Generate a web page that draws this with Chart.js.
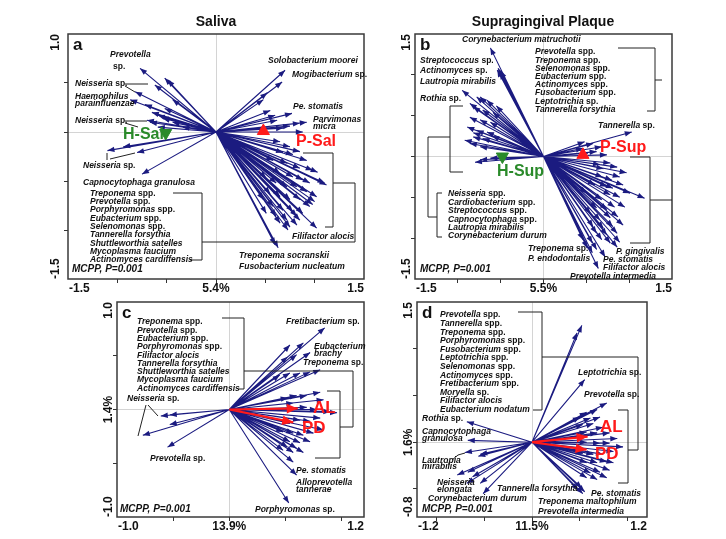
<!DOCTYPE html>
<html>
<head>
<meta charset="utf-8">
<script src="https://cdn.jsdelivr.net/npm/chart.js@4.4.0/dist/chart.umd.min.js"></script>
<style>
  body { margin: 0; background: #fff; }
  .wrap { position: relative; width: 726px; height: 539px; }
  canvas { position: absolute; left: 0; top: 0; }
</style>
</head>
<body>
<div class="wrap">
  <canvas id="pa" width="726" height="539"></canvas>
  <canvas id="pb" width="726" height="539"></canvas>
  <canvas id="pc" width="726" height="539"></canvas>
  <canvas id="pd" width="726" height="539"></canvas>
</div>
<script>
// ---- data: arrow tips (axis 1, axis 2) ----
const salivaTips = [
  [-0.77, 0.65], [-0.52, 0.55], [-0.62, 0.48], [-0.82, 0.41], [-0.87, 0.33], [-0.72, 0.28],
  [-0.65, 0.20], [-0.59, 0.17], [-0.70, 0.12], [-0.67, 0.10], [-0.54, 0.14], [-0.44, 0.10],
  [-0.59, 0.05], [-0.34, 0.05], [-1.10, -0.19], [-0.80, -0.21], [-0.94, -0.15], [-0.75, -0.43],
  [-0.49, 0.53], [-0.44, 0.33], [-0.52, 0.24], [-0.55, 0.15],
  [0.70, 0.63], [0.67, 0.51], [0.52, 0.40], [0.48, 0.33], [0.77, 0.19], [0.55, 0.22],
  [0.92, 0.10], [0.85, 0.09], [0.62, 0.12], [0.88, 0.00], [0.68, 0.04], [0.60, 0.17], [0.75, 0.06],
  [0.65, -0.10], [0.75, -0.15], [0.85, -0.20], [0.68, -0.21], [0.78, -0.23], [0.92, -0.29],
  [0.58, -0.29], [0.72, -0.32], [0.85, -0.37], [0.98, -0.39], [1.03, -0.41], [1.12, -0.54],
  [0.65, -0.42], [0.78, -0.46], [0.88, -0.49], [0.95, -0.52], [0.51, -0.47], [0.61, -0.52],
  [0.72, -0.56], [0.82, -0.56], [0.92, -0.61], [1.02, -0.66], [0.98, -0.74], [0.85, -0.69],
  [0.75, -0.69], [0.65, -0.66], [0.55, -0.63], [0.48, -0.69], [0.58, -0.76], [0.68, -0.80],
  [0.78, -0.81], [0.88, -0.83], [1.00, -0.71], [0.51, -0.83], [0.61, -0.86], [0.72, -0.90],
  [0.82, -0.86], [0.95, -0.76], [0.65, -0.93], [0.75, -0.97], [0.85, -0.90], [1.02, -0.98],
  [0.63, -1.18], [0.60, -1.15], [1.10, -0.52], [0.73, -1.00], [0.82, -0.95]
];
const plaqueTips = [
  [-0.62, 1.33], [-0.53, 1.08], [-0.51, 1.03], [-0.54, 1.06], [-0.50, 1.05], [-0.95, 0.81],
  [-0.78, 0.73], [-0.66, 0.69], [-0.82, 0.61], [-0.71, 0.57], [-0.59, 0.54], [-0.86, 0.48],
  [-0.74, 0.45], [-0.62, 0.42], [-0.89, 0.36], [-0.78, 0.32], [-0.66, 0.30], [-0.82, 0.24],
  [-0.71, 0.22], [-0.86, 0.16], [-0.74, 0.12], [-0.82, 0.29], [-0.80, -0.07], [-0.74, -0.04],
  [-0.62, -0.02], [-0.86, 0.65], [-0.74, 0.73], [-0.55, 0.62], [-0.60, 0.25], [-0.92, 0.20],
  [1.03, 0.30], [0.48, 0.18], [0.58, 0.16], [0.46, 0.10], [0.62, 0.06], [0.52, 0.04],
  [0.68, 0.12], [0.74, 0.02], [0.78, -0.08], [0.86, -0.13], [0.66, -0.10], [0.89, -0.25],
  [0.80, -0.29], [0.69, -0.25], [0.93, -0.35], [0.81, -0.39], [0.74, -0.37], [1.01, -0.45],
  [1.18, -0.51], [0.89, -0.50], [0.78, -0.47], [0.68, -0.53], [0.83, -0.62], [0.95, -0.62],
  [0.74, -0.65], [0.62, -0.63], [0.87, -0.74], [0.78, -0.75], [0.66, -0.78], [0.93, -0.84],
  [0.81, -0.86], [0.70, -0.88], [0.58, -0.86], [0.86, -0.94], [0.74, -0.96], [0.62, -0.94],
  [0.89, -1.05], [0.78, -1.06], [0.68, -1.02], [0.57, -1.06], [0.86, -1.11], [0.62, -1.14],
  [0.57, -1.18], [0.64, -1.37], [0.72, -1.23], [0.51, -1.12], [0.46, -1.02], [0.55, -0.70],
  [0.50, -0.45], [0.60, -0.35], [0.70, -0.15], [0.97, -0.20]
];
const salivaClinTips = [
  [0.85, 0.76], [0.72, 0.53], [0.66, 0.62], [0.54, 0.60], [0.60, 0.51], [0.52, 0.49],
  [0.81, 0.37], [0.72, 0.35], [0.63, 0.34], [0.54, 0.34], [0.45, 0.32], [0.81, 0.16],
  [0.69, 0.13], [0.60, 0.13], [0.52, 0.11], [0.84, 0.09], [0.96, -0.03], [0.90, -0.02],
  [0.78, 0.00], [0.69, 0.02], [0.57, 0.06], [0.81, -0.08], [0.72, -0.11], [0.63, -0.10],
  [0.54, -0.13], [0.84, -0.19], [0.75, -0.22], [0.66, -0.24], [0.57, -0.22], [0.48, -0.21],
  [0.72, -0.30], [0.63, -0.31], [0.54, -0.30], [0.66, -0.40], [0.57, -0.40], [0.48, -0.38],
  [0.60, -0.36], [0.57, -0.49], [0.60, -0.61], [0.53, -0.87], [0.52, -0.35],
  [-0.61, -0.06], [-0.53, -0.05], [-0.77, -0.24], [-0.53, -0.14], [-0.55, -0.35]
];
const plaqueClinTips = [
  [0.52, 1.25], [0.47, 1.17], [0.55, 0.67], [0.78, 0.42],
  [0.68, 0.35], [0.57, 0.32], [0.71, 0.27], [0.61, 0.26], [0.50, 0.27], [0.64, 0.20],
  [0.53, 0.19], [0.74, 0.16], [0.81, 0.10], [0.68, 0.10], [0.57, 0.11], [0.95, -0.05],
  [0.81, -0.01], [0.71, -0.01], [0.57, 0.00], [0.85, -0.10], [0.74, -0.13], [0.64, -0.13],
  [0.53, -0.12], [0.78, -0.21], [0.68, -0.22], [0.57, -0.22], [0.81, -0.30], [0.71, -0.32],
  [0.61, -0.33], [0.78, -0.38], [0.68, -0.40], [0.57, -0.38], [0.85, -0.22], [0.89, 0.04],
  [0.55, -0.53], [0.52, -0.49], [0.48, -0.51], [0.53, -0.55],
  [-0.68, 0.22], [-0.67, 0.02], [-0.70, -0.11], [-0.54, -0.13], [-0.56, -0.15], [-0.78, -0.35],
  [-0.67, -0.32], [-0.62, -0.37], [-0.68, -0.44], [-0.51, -0.55], [-0.54, -0.44]
];

// group centroids / clinical vectors
const salivaHealthy = [-0.51, -0.01];
const salivaPerio = [0.48, 0.01];
const plaqueHealthy = [-0.48, 0.0];
const plaquePerio = [0.46, 0.02];
const salivaClinVectors = [[0.61, 0.01], [0.57, -0.12]];
const plaqueClinVectors = [[0.58, 0.06], [0.57, -0.08]];

// tick labels (min, 0, max)
const salivaXLabels = ['-1.5', '5.4%', '1.5'];
const salivaYLabels = ['1.0', '', '-1.5'];
const plaqueXLabels = ['-1.5', '5.5%', '1.5'];
const plaqueYLabels = ['1.5', '', '-1.5'];
const salivaClinXLabels = ['-1.0', '13.9%', '1.2'];
const salivaClinYLabels = ['1.0', '1.4%', '-1.0'];
const plaqueClinXLabels = ['-1.2', '11.5%', '1.2'];
const plaqueClinYLabels = ['1.5', '1.6%', '-0.8'];

const FONT = '"Liberation Sans", Arial, Helvetica, sans-serif';
const NAVY = '#1b1b80';
const GREEN = '#2a8a2a';
const RED = '#ff1a1a';

function species(ctx, x, y, str, size) {
  let cx = x;
  str.split(' ').forEach((w, i) => {
    const up = w === 'sp.' || w === 'spp.';
    ctx.font = (up ? '' : 'italic ') + 'bold ' + size + 'px ' + FONT;
    const t = (i ? ' ' : '') + w;
    ctx.fillText(t, cx, y);
    cx += ctx.measureText(t).width;
  });
}

function listAt(x, y0, step, names) {
  return names.map((n, i) => [x, y0 + i * step, n]);
}

// ---- annotations (page pixels) ----
const panels = [
  {
    id: 'pa', box: [68, 34, 364, 279], xr: [-1.5, 1.5], yr: [-1.5, 1.0],
    xt: [-1, -0.5, 0, 0.5, 1], yt: [-1, -0.5, 0, 0.5],
    xl: salivaXLabels, yl: salivaYLabels, yOff: 12,
    tips: salivaTips, title: ['Saliva', 216], letter: 'a',
    groups: [[salivaHealthy, 'H-Sal', 123, 135], [salivaPerio, 'P-Sal', 296, 142]],
    notes: [
      [110, 55, 'Prevotella'], [113, 67, 'sp.'], [75, 84, 'Neisseria sp.'],
      [75, 97, 'Haemophilus'], [75, 104, 'parainfluenzae'], [75, 121, 'Neisseria sp.'],
      [83, 166, 'Neisseria sp.'], [83, 183, 'Capnocytophaga granulosa'],
      ...listAt(90, 193.3, 8.33, ['Treponema spp.', 'Prevotella spp.', 'Porphyromonas spp.',
        'Eubacterium spp.', 'Selenomonas spp.', 'Tannerella forsythia', 'Shuttleworthia satelles',
        'Mycoplasma faucium', 'Actinomyces cardiffensis']),
      [268, 61, 'Solobacterium moorei'], [292, 75, 'Mogibacterium sp.'], [293, 107, 'Pe. stomatis'],
      [313, 120, 'Parvimonas'], [313, 127, 'micra'], [292, 237, 'Filifactor alocis'],
      [239, 256, 'Treponema socranskii'], [239, 267, 'Fusobacterium nucleatum']
    ],
    lines: [
      [125, 84, 148, 84], [125, 86, 135, 92], [125, 121, 147, 121], [125, 123, 138, 127],
      [107, 153, 107, 160], [110, 159, 135, 153],
      [173, 193, 202, 193, 202, 260, 190, 260], [202, 242, 355, 242, 355, 183],
      [303, 153, 333, 153, 333, 227, 325, 227], [333, 183, 355, 183]
    ],
    mcpp: [72, 269]
  },
  {
    id: 'pb', box: [415, 34, 672, 279], xr: [-1.5, 1.5], yr: [-1.5, 1.5],
    xt: [-1, -0.5, 0, 0.5, 1], yt: [-1, -0.5, 0, 0.5, 1],
    xl: plaqueXLabels, yl: plaqueYLabels, yOff: 8,
    tips: plaqueTips, title: ['Supragingival Plaque', 543], letter: 'b',
    groups: [[plaqueHealthy, 'H-Sup', 497, 172], [plaquePerio, 'P-Sup', 600, 148]],
    notes: [
      [462, 40, 'Corynebacterium matruchotii'], [420, 61, 'Streptococcus sp.'],
      [420, 71, 'Actinomyces sp.'], [420, 82, 'Lautropia mirabilis'], [420, 99, 'Rothia sp.'],
      ...listAt(448, 194, 8.4, ['Neisseria spp.', 'Cardiobacterium spp.', 'Streptococcus spp.',
        'Capnocytophaga spp.', 'Lautropia mirabilis', 'Corynebacterium durum']),
      ...listAt(535, 52, 8.2, ['Prevotella spp.', 'Treponema spp.', 'Selenomonas spp.',
        'Eubacterium spp.', 'Actinomyces spp.', 'Fusobacterium spp.', 'Leptotrichia sp.',
        'Tannerella forsythia']),
      [598, 126, 'Tannerella sp.'], [528, 249, 'Treponema sp.'], [528, 259, 'P. endodontalis'],
      [616, 252, 'P. gingivalis'], [603, 260, 'Pe. stomatis'], [603, 268, 'Filifactor alocis'],
      [570, 277, 'Prevotella intermedia']
    ],
    lines: [
      [463, 106, 450, 106, 450, 172, 463, 172], [450, 137, 428, 137, 428, 217, 437, 217],
      [442, 193, 437, 193, 437, 237, 442, 237],
      [618, 48, 655, 48, 655, 111, 647, 111], [655, 80, 662, 80],
      [630, 157, 650, 157, 650, 243, 630, 243], [650, 200, 672, 200]
    ],
    mcpp: [420, 269]
  },
  {
    id: 'pc', box: [117, 302, 364, 517], xr: [-1.0, 1.2], yr: [-1.0, 1.0],
    xt: [-0.5, 0, 0.5, 1], yt: [-0.5, 0, 0.5],
    xl: salivaClinXLabels, yl: salivaClinYLabels, yOff: 8,
    tips: salivaClinTips, letter: 'c', clin: salivaClinVectors,
    groups: [[null, 'AL', 313, 408], [null, 'PD', 302, 428]],
    notes: [
      ...listAt(137, 322, 8.3, ['Treponema spp.', 'Prevotella spp.', 'Eubacterium spp.',
        'Porphyromonas spp.', 'Filifactor alocis', 'Tannerella forsythia', 'Shuttleworthia satelles',
        'Mycoplasma faucium', 'Actinomyces cardiffensis']),
      [127, 399, 'Neisseria sp.'], [150, 459, 'Prevotella sp.'], [286, 322, 'Fretibacterium sp.'],
      [314, 347, 'Eubacterium'], [314, 354, 'brachy'], [303, 363, 'Treponema sp.'],
      [296, 471, 'Pe. stomatis'], [296, 483, 'Alloprevotella'], [296, 490, 'tannerae'],
      [255, 510, 'Porphyromonas sp.']
    ],
    lines: [
      [222, 318, 244, 318, 244, 389, 239, 389], [244, 371, 353, 371, 353, 427, 340, 427],
      [327, 391, 340, 391, 340, 458, 315, 458], [146, 405, 138, 436], [148, 405, 158, 416]
    ],
    mcpp: [120, 509]
  },
  {
    id: 'pd', box: [417, 302, 647, 517], xr: [-1.2, 1.2], yr: [-0.8, 1.5],
    xt: [-1, -0.5, 0, 0.5, 1], yt: [-0.5, 0, 0.5, 1],
    xl: plaqueClinXLabels, yl: plaqueClinYLabels, yOff: 8,
    tips: plaqueClinTips, letter: 'd', clin: plaqueClinVectors,
    groups: [[null, 'AL', 600, 427], [null, 'PD', 595, 454]],
    notes: [
      ...listAt(440, 315, 8.6, ['Prevotella spp.', 'Tannerella spp.', 'Treponema spp.',
        'Porphyromonas spp.', 'Fusobacterium spp.', 'Leptotrichia spp.', 'Selenomonas spp.',
        'Actinomyces spp.', 'Fretibacterium spp.', 'Moryella sp.', 'Filifactor alocis',
        'Eubacterium nodatum']),
      [578, 373, 'Leptotrichia sp.'], [584, 395, 'Prevotella sp.'], [422, 419, 'Rothia sp.'],
      [422, 432, 'Capnocytophaga'], [422, 439, 'granulosa'], [422, 461, 'Lautropia'],
      [422, 467, 'mirabilis'], [437, 483, 'Neisseria'], [437, 490, 'elongata'],
      [428, 499, 'Corynebacterium durum'], [497, 489, 'Tannerella forsythia'],
      [591, 494, 'Pe. stomatis'], [538, 502, 'Treponema maltophilum'],
      [538, 512, 'Prevotella intermedia']
    ],
    lines: [
      [518, 312, 542, 312, 542, 410, 533, 410], [542, 357, 638, 357, 638, 450, 628, 450],
      [618, 410, 628, 410, 628, 483, 618, 483], [452, 460, 458, 455, 465, 453]
    ],
    mcpp: [422, 509]
  }
];

const arrowHeads = {
  id: 'arrowHeads',
  afterDatasetDraw(chart, args) {
    const ds = chart.data.datasets[args.index];
    if (!ds.headLen) return;
    const xs = chart.scales.x, ys = chart.scales.y;
    const ox = xs.getPixelForValue(0), oy = ys.getPixelForValue(0);
    const ctx = chart.ctx;
    ctx.save();
    ctx.fillStyle = ds.borderColor;
    ds.data.forEach(p => {
      if (p.y === null || (p.x === 0 && p.y === 0)) return;
      const px = xs.getPixelForValue(p.x), py = ys.getPixelForValue(p.y);
      const a = Math.atan2(py - oy, px - ox);
      const L = ds.headLen, W = ds.headW, c = Math.cos(a), s = Math.sin(a);
      ctx.beginPath();
      ctx.moveTo(px, py);
      ctx.lineTo(px - L * c + W * s, py - L * s - W * c);
      ctx.lineTo(px - L * c - W * s, py - L * s + W * c);
      ctx.closePath();
      ctx.fill();
    });
    ctx.restore();
  }
};

function decor(p) {
  return {
    id: 'decor',
    afterDraw(chart) {
      const ctx = chart.ctx;
      const a = chart.chartArea;
      const xs = chart.scales.x, ys = chart.scales.y;
      ctx.save();
      ctx.strokeStyle = '#3a3a3a';
      ctx.lineWidth = 1.5;
      ctx.strokeRect(a.left, a.top, a.right - a.left, a.bottom - a.top);

      // bracket lines
      ctx.strokeStyle = '#222';
      ctx.lineWidth = 1;
      p.lines.forEach(l => {
        ctx.beginPath();
        ctx.moveTo(l[0], l[1]);
        for (let i = 2; i < l.length; i += 2) ctx.lineTo(l[i], l[i + 1]);
        ctx.stroke();
      });

      ctx.fillStyle = '#111';
      ctx.textBaseline = 'middle';
      ctx.textAlign = 'left';
      p.notes.forEach(n => species(ctx, n[0], n[1], n[2], 8.5));

      ctx.font = 'italic bold 10px ' + FONT;
      ctx.fillText('MCPP, P=0.001', p.mcpp[0], p.mcpp[1]);

      ctx.font = 'bold 17px ' + FONT;
      ctx.textBaseline = 'top';
      ctx.fillText(p.letter, a.left + 5, a.top + 3);

      // group labels
      ctx.textBaseline = 'middle';
      p.groups.forEach((g, i) => {
        ctx.fillStyle = p.clin ? RED : (i === 0 ? GREEN : RED);
        ctx.font = 'bold ' + (p.clin ? 17 : 16) + 'px ' + FONT;
        ctx.fillText(g[1], g[2], g[3]);
      });

      // axis labels
      ctx.fillStyle = '#111';
      ctx.font = 'bold 12px ' + FONT;
      const ly = a.bottom + 10;
      ctx.textAlign = 'left';
      ctx.fillText(p.xl[0], a.left + 1, ly);
      ctx.textAlign = 'center';
      ctx.fillText(p.xl[1], xs.getPixelForValue(0), ly);
      ctx.textAlign = 'right';
      ctx.fillText(p.xl[2], a.right, ly);

      const lx = a.left - p.yOff;
      const yPos = [a.top, ys.getPixelForValue(0), a.bottom];
      const al = ['right', 'center', 'left'];
      p.yl.forEach((t, i) => {
        if (!t) return;
        ctx.save();
        ctx.translate(lx, yPos[i]);
        ctx.rotate(-Math.PI / 2);
        ctx.textAlign = al[i];
        ctx.fillText(t, 0, 0);
        ctx.restore();
      });

      if (p.title) {
        ctx.font = 'bold 14px ' + FONT;
        ctx.textAlign = 'center';
        ctx.fillText(p.title[0], p.title[1], 22);
      }
      ctx.restore();
    }
  };
}

function arrowData(tips) {
  return tips.flatMap(t => [{ x: 0, y: 0 }, { x: t[0], y: t[1] }, { x: 0, y: null }]);
}

panels.forEach(p => {
  const datasets = [{
    data: arrowData(p.tips), showLine: true, spanGaps: false,
    borderColor: NAVY, borderWidth: 1.1, pointRadius: 0, order: 3,
    headLen: 7, headW: 2.7
  }];
  if (p.clin) {
    datasets.push({
      data: arrowData(p.clin), showLine: true, spanGaps: false,
      borderColor: RED, borderWidth: 2.2, pointRadius: 0, order: 1,
      headLen: 11, headW: 4.8
    });
  } else {
    datasets.push({
      data: [{ x: p.groups[0][0][0], y: p.groups[0][0][1] }],
      pointStyle: 'triangle', rotation: 180, pointRadius: 7,
      backgroundColor: GREEN, borderColor: GREEN, order: 1
    });
    datasets.push({
      data: [{ x: p.groups[1][0][0], y: p.groups[1][0][1] }],
      pointStyle: 'triangle', pointRadius: 7,
      backgroundColor: RED, borderColor: RED, order: 1
    });
  }
  const grid = {
    color: c => (c.tick && c.tick.value === 0) ? '#d4d4d4' : 'rgba(0,0,0,0)',
    tickColor: '#333', tickLength: 4, lineWidth: 1
  };
  new Chart(document.getElementById(p.id), {
    type: 'scatter',
    data: { datasets },
    options: {
      responsive: false,
      animation: false,
      events: [],
      layout: { padding: { left: p.box[0], top: p.box[1], right: 726 - p.box[2], bottom: 539 - p.box[3] } },
      plugins: { legend: { display: false }, tooltip: { enabled: false } },
      scales: {
        x: {
          type: 'linear', min: p.xr[0], max: p.xr[1],
          afterBuildTicks: s => { s.ticks = p.xt.map(v => ({ value: v })); },
          afterFit: s => { s.height = 0; },
          ticks: { display: false }, grid, border: { display: false }
        },
        y: {
          type: 'linear', min: p.yr[0], max: p.yr[1],
          afterBuildTicks: s => { s.ticks = p.yt.map(v => ({ value: v })); },
          afterFit: s => { s.width = 0; },
          ticks: { display: false }, grid, border: { display: false }
        }
      }
    },
    plugins: [arrowHeads, decor(p)]
  });
});
</script>
</body>
</html>
